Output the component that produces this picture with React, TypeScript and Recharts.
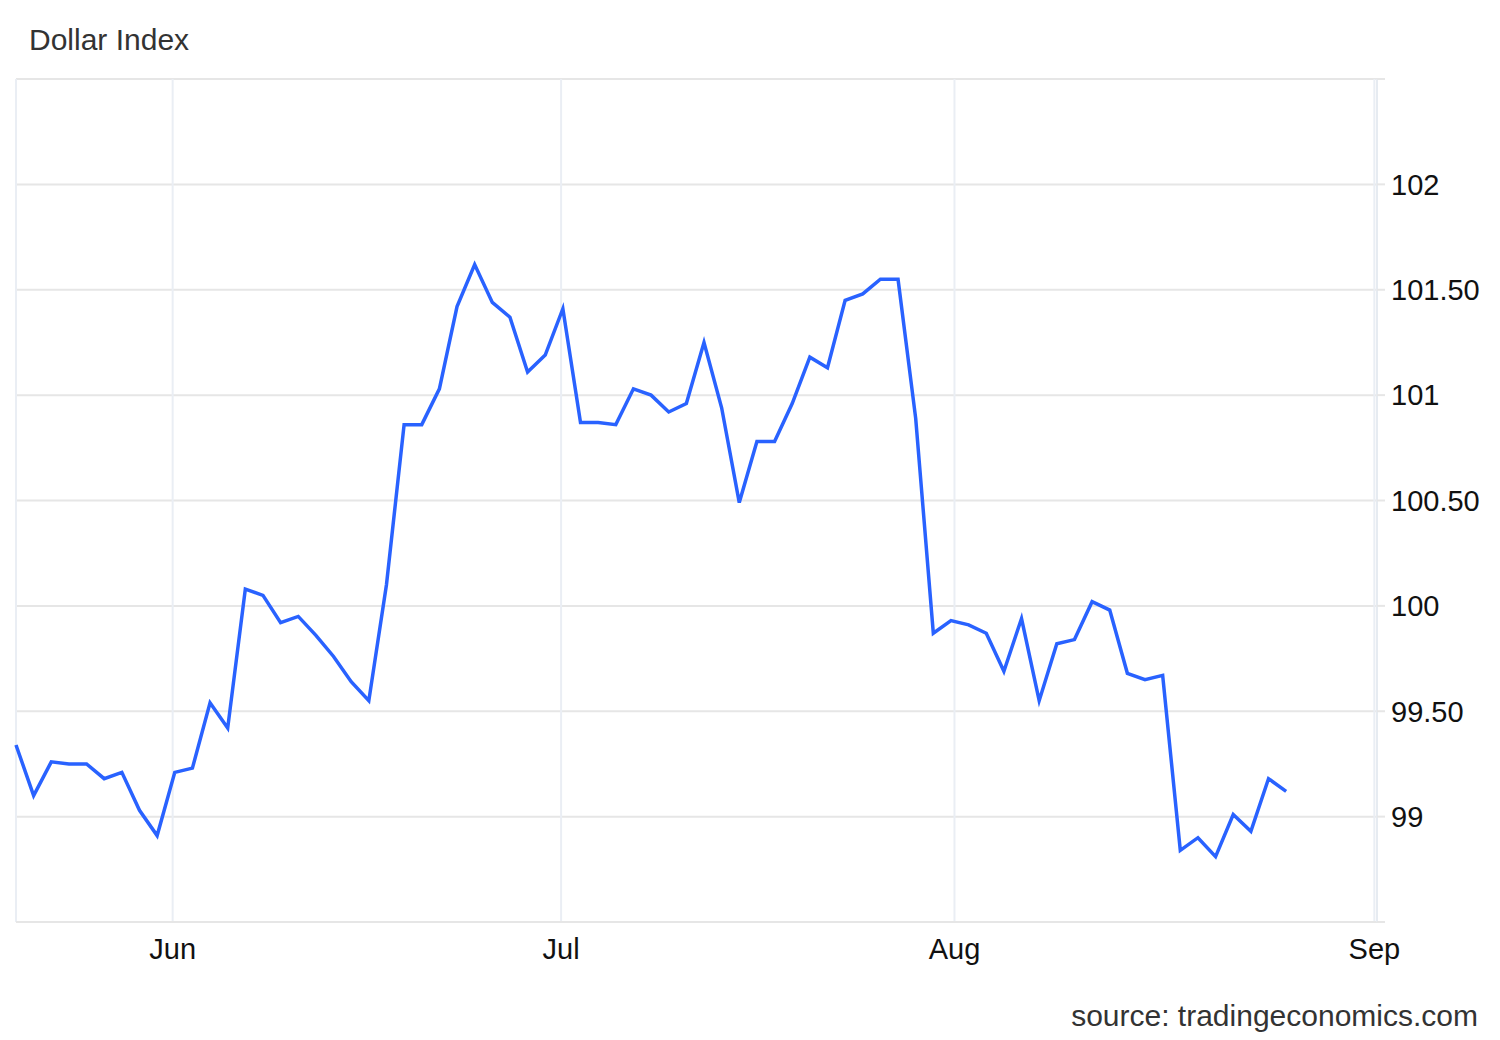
import React from 'react';
import { LineChart, Line, CartesianGrid, XAxis, YAxis } from 'recharts';

// daily closes (trading-day index order)
const closes = [
  99.34, 99.1, 99.26, 99.25, 99.25, 99.18, 99.21, 99.03, 98.91, 99.21,
  99.23, 99.54, 99.42, 100.08, 100.05, 99.92, 99.95, 99.86, 99.76, 99.64,
  99.55, 100.1, 100.86, 100.86, 101.03, 101.42, 101.62, 101.44, 101.37, 101.11,
  101.19, 101.41, 100.87, 100.87, 100.86, 101.03, 101.0, 100.92, 100.96, 101.25,
  100.94, 100.49, 100.78, 100.78, 100.96, 101.18, 101.13, 101.45, 101.48, 101.55,
  101.55, 100.89, 99.87, 99.93, 99.91, 99.87, 99.69, 99.94, 99.55, 99.82,
  99.84, 100.02, 99.98, 99.68, 99.65, 99.67, 98.84, 98.9, 98.81, 99.01,
  98.93, 99.18, 99.12,
];

// month starts, in trading-day index units
const monthLabels = ['Jun', 'Jul', 'Aug', 'Sep'];
const monthTicks = [8.88, 30.9, 53.2, 77.0];

const yTicks = [98.5, 99, 99.5, 100, 100.5, 101, 101.5, 102, 102.5];

const data = closes.map((v, i) => ({ i, v }));

const FONT = '"Liberation Sans", Arial, Helvetica, sans-serif';

const fmtY = (v: number) => {
  if (v === 98.5 || v === 102.5) return '';
  return Number.isInteger(v) ? String(v) : v.toFixed(2);
};

const fmtX = (v: number) => {
  const k = monthTicks.indexOf(v);
  return k >= 0 ? monthLabels[k] : '';
};

export default function App() {
  return (
    <div
      style={{
        position: 'absolute',
        left: 0,
        top: 0,
        width: 1500,
        height: 1040,
        background: '#fff',
        fontFamily: FONT,
      }}
    >
      <div
        style={{
          position: 'absolute',
          left: 29,
          top: 23,
          fontSize: 30,
          color: '#333',
          lineHeight: '34px',
        }}
      >
        Dollar Index
      </div>

      <LineChart
        width={1500}
        height={1040}
        data={data}
        margin={{ top: 79, right: 0, bottom: 58, left: 16 }}
      >
        <CartesianGrid horizontal={true} vertical={false} stroke="#e6e6e6" strokeWidth={2} />
        <CartesianGrid horizontal={false} vertical={true} stroke="#eaeef4" strokeWidth={2} />
        <XAxis
          dataKey="i"
          type="number"
          domain={[0, 77.15]}
          ticks={monthTicks}
          interval={0}
          tickFormatter={fmtX}
          axisLine={{ stroke: '#e6e6e6', strokeWidth: 2 }}
          tickLine={false}
          tickSize={8}
          tickMargin={8}
          height={60}
          tick={{ fontSize: 29, fill: '#111', fontFamily: FONT }}
        />
        <YAxis
          orientation="right"
          type="number"
          domain={[98.5, 102.5]}
          ticks={yTicks}
          interval={0}
          tickFormatter={fmtY}
          width={123}
          axisLine={{ stroke: '#e6ebf1', strokeWidth: 2 }}
          tickLine={{ stroke: '#e6e6e6', strokeWidth: 2 }}
          tickSize={8}
          tickMargin={6}
          tick={{ fontSize: 29, fill: '#111', fontFamily: FONT, textAnchor: 'start' }}
        />
        <Line
          type="linear"
          dataKey="v"
          stroke="#2962ff"
          strokeWidth={3.5}
          dot={false}
          isAnimationActive={false}
        />
      </LineChart>

      <div
        style={{
          position: 'absolute',
          right: 22,
          top: 999,
          fontSize: 30,
          color: '#333',
          lineHeight: '34px',
        }}
      >
        source: tradingeconomics.com
      </div>
    </div>
  );
}
